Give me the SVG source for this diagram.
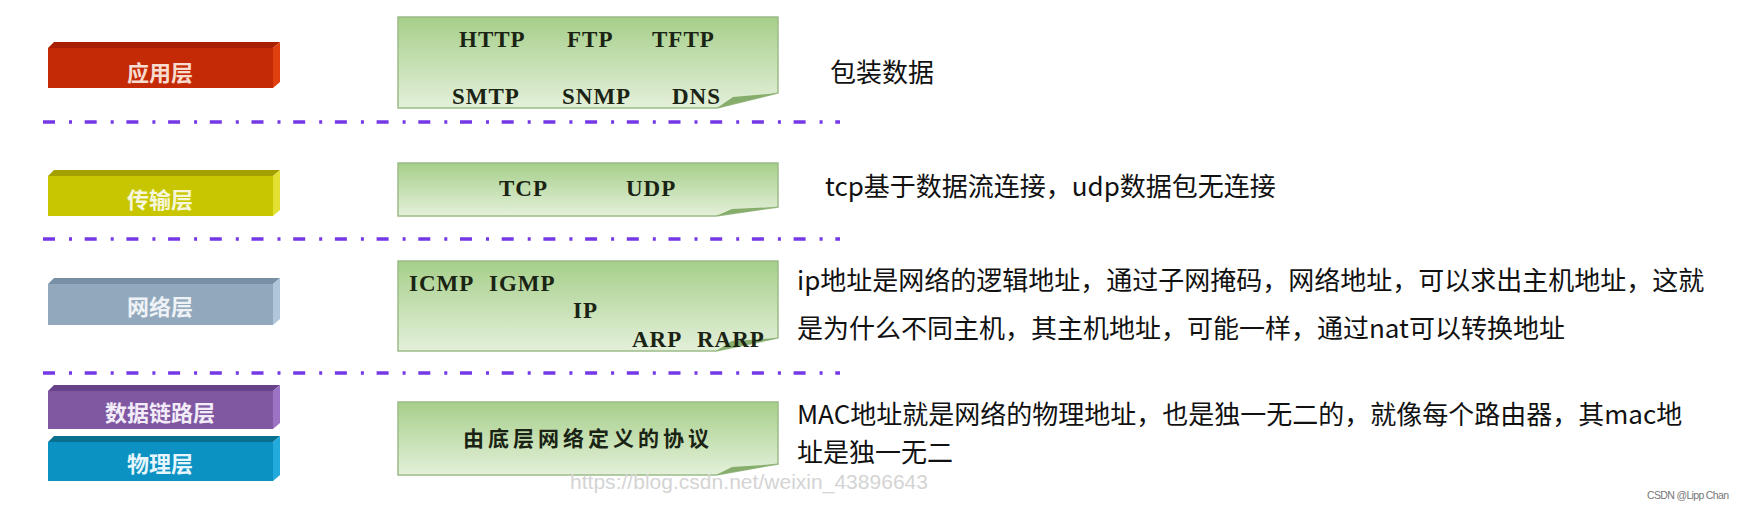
<svg xmlns="http://www.w3.org/2000/svg" width="1745" height="513" viewBox="0 0 1745 513">
<defs>
<linearGradient id="gg" x1="0" y1="0" x2="0" y2="1">
<stop offset="0" stop-color="#a6cf8a"/>
<stop offset="1" stop-color="#e4f0da"/>
</linearGradient>
<style>
.lbl{font-family:"Noto Sans CJK SC","Noto Sans",sans-serif;font-size:22px;font-weight:bold;text-anchor:middle;dominant-baseline:central}
.gbox{fill:url(#gg);stroke:#9cbc88;stroke-width:1.5}
.flap{fill:#86ad6c}
.proto{font-family:"Liberation Serif",serif;font-weight:bold;font-size:23px;letter-spacing:1px;fill:#1b2414}
.desc{font-family:"Noto Sans CJK SC","Noto Sans",sans-serif;font-size:26px;fill:#111}
.sep{stroke:#7438e6;stroke-width:3.5;stroke-dasharray:12 14 3 12.7;fill:none}
</style>
</defs>
<rect width="1745" height="513" fill="#ffffff"/>

<g id="app-layer">
<polygon points="48,48 54,42 280,42 273,48" fill="#a82000"/>
<rect x="48" y="48" width="225" height="40" fill="#c42a06"/>
<polygon points="273,48 280,42 280,82 273,88" fill="#e0400f"/>
<text class="lbl" x="160" y="71" fill="#f7dccf">应用层</text>
</g>

<g id="transport-layer">
<polygon points="48,176 54,170 280,170 273,176" fill="#a3a000"/>
<rect x="48" y="176" width="225" height="40" fill="#c8c600"/>
<polygon points="273,176 280,170 280,210 273,216" fill="#e2e030"/>
<text class="lbl" x="160" y="198" fill="#f6f6dc">传输层</text>
</g>

<g id="network-layer">
<polygon points="48,284 54,278 280,278 273,284" fill="#7890a6"/>
<rect x="48" y="284" width="225" height="41" fill="#92a8bc"/>
<polygon points="273,284 280,278 280,319 273,325" fill="#b0c6da"/>
<text class="lbl" x="160" y="305" fill="#eef2f6">网络层</text>
</g>

<g id="datalink-layer">
<polygon points="48,391 54,385 280,385 273,391" fill="#66428a"/>
<rect x="48" y="391" width="225" height="38" fill="#8058a2"/>
<polygon points="273,391 280,385 280,423 273,429" fill="#9c72c4"/>
<text class="lbl" x="160" y="411" fill="#f2ecf8">数据链路层</text>
</g>

<g id="physical-layer">
<polygon points="48,442 54,436 280,436 273,442" fill="#08708e"/>
<rect x="48" y="442" width="225" height="39" fill="#0b92c2"/>
<polygon points="273,442 280,436 280,475 273,481" fill="#22aadc"/>
<text class="lbl" x="160" y="462" fill="#e6f6fc">物理层</text>
</g>

<g id="app-protocols">
<path class="gbox" d="M398,17 H778 V93 L717,108 H398 Z"/>
<polygon class="flap" points="717,108 733,97 778,93"/>
<text class="proto" x="459" y="47">HTTP</text>
<text class="proto" x="567" y="47">FTP</text>
<text class="proto" x="652" y="47">TFTP</text>
<text class="proto" x="452" y="104">SMTP</text>
<text class="proto" x="562" y="104">SNMP</text>
<text class="proto" x="672" y="104">DNS</text>
</g>

<g id="transport-protocols">
<path class="gbox" d="M398,163 H778 V207 L716,216 H398 Z"/>
<polygon class="flap" points="716,216 732,209 778,207"/>
<text class="proto" x="499" y="196">TCP</text>
<text class="proto" x="626" y="196">UDP</text>
</g>

<g id="network-protocols">
<path class="gbox" d="M398,261 H778 V338 L716,351 H398 Z"/>
<polygon class="flap" points="716,351 732,341 778,338"/>
<text class="proto" x="409" y="291">ICMP</text>
<text class="proto" x="489" y="291">IGMP</text>
<text class="proto" x="573" y="318">IP</text>
<text class="proto" x="632" y="347">ARP</text>
<text class="proto" x="697" y="347">RARP</text>
</g>

<g id="lower-protocols">
<path class="gbox" d="M398,402 H778 V464 L716,475 H398 Z"/>
<polygon class="flap" points="716,475 732,467 778,464"/>
<text x="463" y="446" font-family="Noto Sans CJK SC,sans-serif" font-size="21" font-weight="bold" letter-spacing="4" fill="#1b2414">由底层网络定义的协议</text>
</g>

<g id="separators">
<line class="sep" x1="43" y1="122" x2="840" y2="122"/>
<line class="sep" x1="43" y1="239" x2="840" y2="239"/>
<line class="sep" x1="43" y1="373" x2="840" y2="373"/>
</g>

<g id="descriptions">
<text class="desc" x="830" y="82">包装数据</text>
<text class="desc" x="825" y="196">tcp基于数据流连接，udp数据包无连接</text>
<text class="desc" x="797" y="290">ip地址是网络的逻辑地址，通过子网掩码，网络地址，可以求出主机地址，这就</text>
<text class="desc" x="797" y="338">是为什么不同主机，其主机地址，可能一样，通过nat可以转换地址</text>
<text class="desc" x="797" y="424">MAC地址就是网络的物理地址，也是独一无二的，就像每个路由器，其mac地</text>
<text class="desc" x="797" y="462">址是独一无二</text>
</g>

<text x="570" y="489" font-family="Liberation Sans,sans-serif" font-size="21" fill="#d4d4d4" textLength="358">https://blog.csdn.net/weixin_43896643</text>
<text x="1647" y="499" font-family="Liberation Sans,sans-serif" font-size="10.5" fill="#777" textLength="82">CSDN @Lipp Chan</text>
</svg>
